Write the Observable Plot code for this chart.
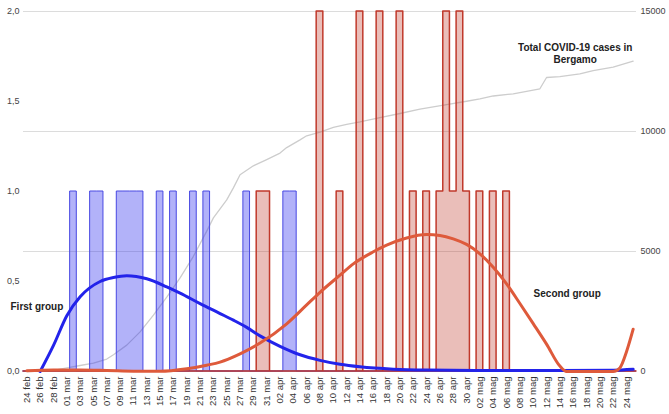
<!DOCTYPE html>
<html><head><meta charset="utf-8">
<script src="https://cdn.jsdelivr.net/npm/d3@7"></script>
<script src="https://cdn.jsdelivr.net/npm/@observablehq/plot@0.6"></script>
<style>html,body{margin:0;padding:0;background:#fff;} svg{display:block}</style>
</head><body><div id="chart"></div>
<script>
// Days counted from 24 feb 2020 (day 0) to 25 mag 2020 (day 91)
const dayCount = 92;

const tickDays = [0,2,4,6,8,10,12,14,16,18,20,22,24,26,28,30,32,34,36,38,40,42,44,46,48,50,52,54,56,58,60,62,64,66,68,70,72,74,76,78,80,82,84,86,88,90];
const tickLabels = ["24 feb","26 feb","28 feb","01 mar","03 mar","05 mar","07 mar","09 mar","11 mar","13 mar","15 mar","17 mar","19 mar","21 mar","23 mar","25 mar","27 mar","29 mar","31 mar","02 apr","04 apr","06 apr","08 apr","10 apr","12 apr","14 apr","16 apr","18 apr","20 apr","22 apr","24 apr","26 apr","28 apr","30 apr","02 mag","04 mag","06 mag","08 mag","10 mag","12 mag","14 mag","16 mag","18 mag","20 mag","22 mag","24 mag"];

const leftTicks = [0, 0.5, 1, 1.5, 2];
const rightTicks = [0, 5000, 10000, 15000];

// First group (blue) daily counts
const blueBarDays   = [7,10,11,14,15,16,17,20,22,25,27,33,39,40];
const blueBarValues = [1,1,1,1,1,1,1,1,1,1,1,1,1,1];

// Second group (red) daily counts
const redBarDays   = [35,36,44,47,50,53,56,58,60,62,63,64,65,66,68,70,72];
const redBarValues = [1,1,2,1,2,2,2,1,1,1,2,1,2,1,1,1,1];

// Trend curve, first group
const blueTrendDays   = [2,4,6,8,11,13,15,18,21,23,26,29,31,33,35,38,41,44,47,50,55,60,70,80,88,91];
const blueTrendValues = [0,0.145,0.31,0.415,0.5,0.522,0.532,0.515,0.47,0.435,0.377,0.322,0.285,0.245,0.198,0.14,0.093,0.062,0.04,0.026,0.013,0.008,0.005,0.005,0.007,0.012];

// Trend curve, second group
const redTrendDays   = [0,4,8,12,16,20,24,27,29,32,35,39,42,44,47,49,52,54,57,60,62,64,66,68,70,72,74,76,78,80,81,85,88,89,90,91];
const redTrendValues = [0.004,0.008,0.009,0.006,0.002,0.001,0.015,0.035,0.052,0.098,0.158,0.265,0.37,0.44,0.535,0.598,0.665,0.702,0.742,0.761,0.756,0.737,0.706,0.654,0.579,0.487,0.378,0.266,0.152,0.03,0,0,0,0.02,0.11,0.235];

// Total COVID-19 cases in Bergamo (right axis)
const casesDays   = [0,2,4,6,8,10,12,13,15,17,19,21,23,25,27,28,30,31,32,34,36,38,39,41,42,44,46,48,50,53,56,59,63,66,68,70,73,77,78,80,83,85,88,90,91];
const casesValues = [0,15,50,150,250,350,520,700,1100,1650,2350,3100,3900,4800,5850,6400,7150,7650,8200,8570,8830,9100,9330,9650,9820,9970,10170,10300,10400,10580,10750,10930,11120,11260,11360,11480,11570,11780,12250,12290,12400,12540,12680,12850,12930];

const leftMax = 2, rightMax = 15000;
const toLeft = v => v * leftMax / rightMax;

function daily(days, values) {
  const m = new Map(days.map((d, i) => [d, values[i]]));
  return d3.range(dayCount + 1).map(d => ({day: d, value: m.get(d) ?? 0}));
}
const zip = (days, values) => days.map((d, i) => ({day: d, value: values[i]}));

const blueDaily = daily(blueBarDays, blueBarValues);
const redDaily = daily(redBarDays, redBarValues);
const blueTrend = zip(blueTrendDays, blueTrendValues);
const redTrend = zip(redTrendDays, redTrendValues);
const cases = zip(casesDays, casesValues);

const tickPos = tickDays.map(d => d + 0.5);
const labelByPos = new Map(tickPos.map((p, i) => [p, tickLabels[i]]));

const chart = Plot.plot({
  width: 669,
  height: 414,
  marginLeft: 23,
  marginRight: 33,
  marginTop: 11,
  marginBottom: 43,
  x: {domain: [0, dayCount], axis: null},
  y: {domain: [0, leftMax], axis: null},
  style: {fontFamily: "'Liberation Sans', Arial, sans-serif", background: "#fff", overflow: "visible"},
  marks: [
    Plot.ruleY(rightTicks, {y: toLeft, stroke: "#dcdcdc", strokeWidth: 1}),
    Plot.line(cases, {x: d => d.day + 0.5, y: d => toLeft(d.value), stroke: "#cdcdcd", strokeWidth: 1.3}),
    Plot.areaY(blueDaily, {x: "day", y: "value", curve: "step-after", fill: "#3535f0", fillOpacity: 0.38, stroke: "#4848e2", strokeWidth: 1, strokeLinejoin: "round"}),
    Plot.areaY(redDaily, {x: "day", y: "value", curve: "step-after", fill: "#c0392b", fillOpacity: 0.33, stroke: "#c0392b", strokeWidth: 1.5, strokeLinejoin: "round"}),
    Plot.line(blueTrend, {x: d => d.day + 0.5, y: "value", curve: "monotone-x", stroke: "#2323ea", strokeWidth: 3}),
    Plot.line(redTrend, {x: d => d.day + 0.5, y: "value", curve: "monotone-x", stroke: "#de5a3b", strokeWidth: 3}),
    Plot.axisY(leftTicks, {anchor: "left", tickSize: 0, tickPadding: 4, tickFormat: d => d.toFixed(1).replace(".", ","), fontSize: 9, color: "#444", label: null}),
    Plot.text(rightTicks, {y: toLeft, text: d => String(d), frameAnchor: "right", textAnchor: "start", dx: 4, fontSize: 9, fill: "#444"}),
    Plot.axisX(tickPos, {anchor: "bottom", tickSize: 0, tickPadding: 5, tickRotate: -90, tickFormat: d => labelByPos.get(d), fontSize: 9.5, color: "#333", label: null}),
    Plot.text(["First group"], {x: -1.95, y: 0.361, text: d => d, textAnchor: "start", fontSize: 10, fontWeight: "bold", fill: "#222"}),
    Plot.text(["Second group"], {x: 81.6, y: 0.433, text: d => d, textAnchor: "middle", fontSize: 10, fontWeight: "bold", fill: "#222"}),
    Plot.text(["Total COVID-19 cases in\nBergamo"], {x: 82.8, y: 1.767, text: d => d, textAnchor: "middle", lineHeight: 1.2, fontSize: 10, fontWeight: "bold", fill: "#222"})
  ]
});
document.getElementById("chart").appendChild(chart);
</script>
</body></html>
